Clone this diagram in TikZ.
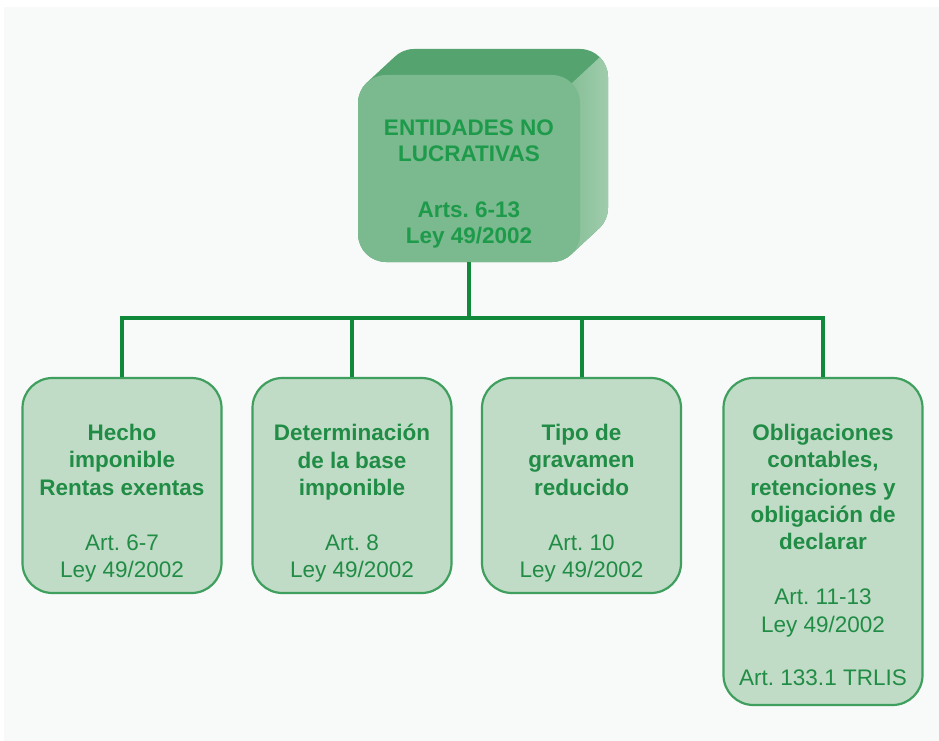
\documentclass[tikz,border=0pt]{standalone}
\usepackage{fontspec}
\setmainfont{Liberation Sans}
\frenchspacing
\definecolor{panel}{HTML}{F8F9F9}
\definecolor{topface}{HTML}{55A46F}
\definecolor{frontface}{HTML}{7BB98F}
\definecolor{sidelo}{HTML}{7FBB91}
\definecolor{sidehi}{HTML}{A8D1B3}
\definecolor{headtext}{HTML}{1D9A4A}
\definecolor{boxfill}{HTML}{C1DCC6}
\definecolor{boxline}{HTML}{3F9F5E}
\definecolor{boxtext}{HTML}{208C45}
\definecolor{linkcol}{HTML}{10893A}
\begin{document}
\begin{tikzpicture}[x=1pt,y=-1pt,
  topicbox/.style={draw=boxline, line width=2.2pt, fill=boxfill, rounded corners=30pt,
    minimum width=199pt, inner sep=0pt},
  topictext/.style={anchor=north, inner sep=0pt, align=center, text=boxtext,
    font=\fontsize{22.5}{27.3}\selectfont},
  headtextstyle/.style={anchor=north, inner sep=0pt, align=center, text=headtext,
    font=\bfseries\fontsize{22.5}{26}\selectfont},
  link/.style={draw=linkcol, line width=4pt}]
\useasboundingbox (0,0) rectangle (939,741);
\fill[white] (0,0) rectangle (939,741);
\fill[panel] (4,7) rectangle (939,741);

% extruded back of the heading block: the front face swept up and to the right
\begin{scope}
  \clip \foreach \t in {0,0.5,...,28} {
    [rounded corners=28pt] ({358+\t},{75-\t*26/28}) rectangle ++(222,187) };
  \fill[topface] (350,40) rectangle (620,270);
  % lighter right side of the block
  \shade[left color=sidelo, right color=sidehi]
    (571.8,83.2) -- (599.8,57.2) -- (620,57.2) -- (620,270) -- (560,270) -- (560,95) -- cycle;
\end{scope}

% heading block front face
\node[fill=frontface, rounded corners=28pt, minimum width=222pt, minimum height=187pt,
  inner sep=0pt] (top) at (469,168.5) {};
\node[headtextstyle] (toptext) at (469,119) {\rule{0pt}{16pt}ENTIDADES NO\\LUCRATIVAS\\[30pt]Arts. 6-13\\Ley 49/2002};

% topic boxes
\node[topicbox, minimum height=215pt] (b1) at (122,485.5) {};
\node[topicbox, minimum height=215pt] (b2) at (352,485.5) {};
\node[topicbox, minimum height=215pt] (b3) at (581.5,485.5) {};
\node[topicbox, minimum height=327pt] (b4) at (823,541.5) {};

\node[topictext] (t1) at (122,424) {\rule{0pt}{16pt}\textbf{Hecho}\\\textbf{imponible}\\\textbf{Rentas exentas}\\[27.7pt]Art. 6-7\\Ley 49/2002};
\node[topictext] (t2) at (352,424) {\rule{0pt}{16pt}\textbf{Determinación}\\\textbf{de la base}\\\textbf{imponible}\\[27.7pt]Art. 8\\Ley 49/2002};
\node[topictext] (t3) at (581.5,424) {\rule{0pt}{16pt}\textbf{Tipo de}\\\textbf{gravamen}\\\textbf{reducido}\\[27.7pt]Art. 10\\Ley 49/2002};
\node[topictext] (t4) at (823,424) {\rule{0pt}{16pt}\textbf{Obligaciones}\\\textbf{contables,}\\\textbf{retenciones y}\\\textbf{obligación de}\\\textbf{declarar}\\[27.7pt]Art. 11-13\\Ley 49/2002\\[26pt]Art. 133.1 TRLIS};

% connectors
\coordinate (bus) at (469,318);
\draw[link] (top.south) -- (bus);
\draw[link] (b1.north) |- (bus) -| (b4.north);
\draw[link] (b2.north) -- (b2.north |- bus);
\draw[link] (b3.north) -- (b3.north |- bus);
\end{tikzpicture}
\end{document}
